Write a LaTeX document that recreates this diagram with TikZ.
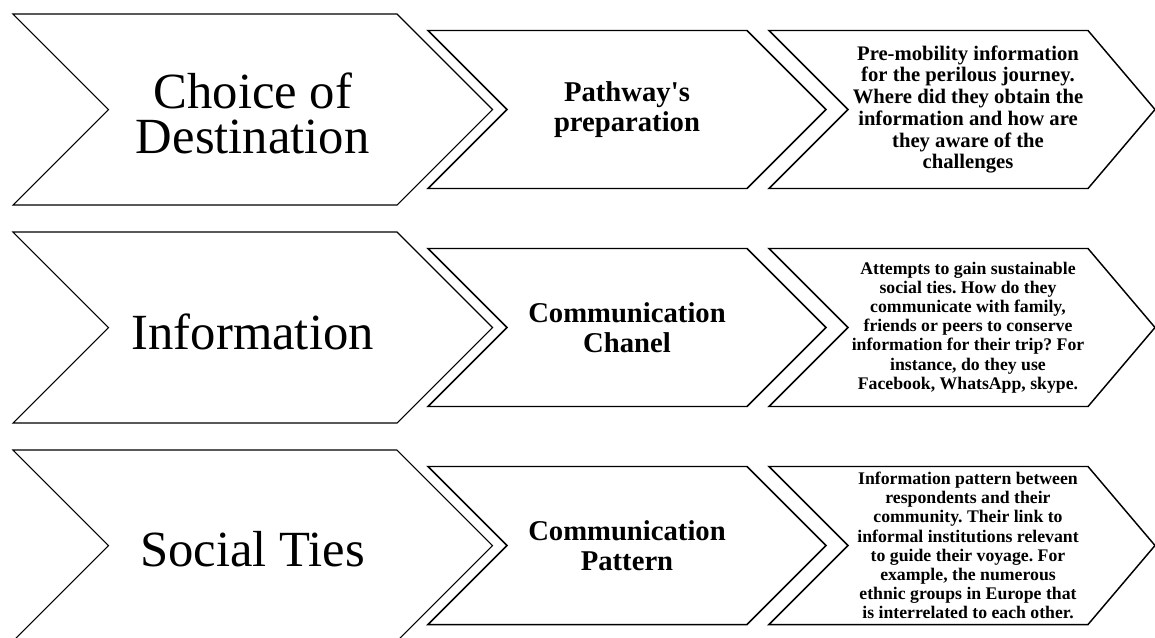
\documentclass[tikz,border=0pt]{standalone}
\usepackage{fontspec}
\setmainfont{Liberation Serif}
\usepackage{tikz}
\usetikzlibrary{positioning}
\frenchspacing
\tikzset{
  chv/.style = {draw=black, line width=0.8pt, line join=miter, fill=white},
  chvs/.style = {chv, line width=1.1pt},
  txt/.style = {align=center, inner sep=0pt, text centered},
  head/.style = {txt, yshift=-3pt, font=\fontsize{38}{34}\selectfont},
  sub/.style = {txt, font=\bfseries\fontsize{21.5}{22.5}\selectfont},
  info/.style = {txt, font=\bfseries\fontsize{15.5}{16.3}\selectfont},
  infos/.style = {txt, font=\bfseries\fontsize{13.3}{14.4}\selectfont}
}
% chevron: name, left x, top y, width, half height, tip depth, line style, text style, text
\newcommand{\chev}[9]{%
  \draw[#7] (#2,#3) -- ({#2+#4},#3) -- ({#2+#4+#6},{#3+#5})
    -- ({#2+#4},{#3+2*#5}) -- (#2,{#3+2*#5}) -- ({#2+#5},{#3+#5}) -- cycle;
  \node[#8] (#1) at ({#2+(#5+#4)/2},{#3+#5}) {#9};
}

\begin{document}
\begin{tikzpicture}[x=0.75pt, y=-0.75pt]
\useasboundingbox (0,0) rectangle (1155,637);
% row 1
\chev{dest}{13}{14}{384}{95.5}{95.5}{chv}{head}{Choice of\\Destination}
\chev{path}{428}{30.5}{319}{79}{79}{chvs}{sub}{Pathway\textquotesingle s\\preparation}
\chev{prem}{769}{30.5}{319}{79}{67}{chvs}{info}{Pre-mobility information\\for the perilous journey.\\Where did they obtain the\\information and how are\\they aware of the\\challenges}
% row 2
\chev{info}{13}{232}{384}{95.5}{95.5}{chv}{head}{Information}
\chev{chan}{428}{248.5}{319}{79}{79}{chvs}{sub}{Communication\\Chanel}
\chev{ties}{769}{248.5}{319}{79}{67}{chvs}{infos}{Attempts to gain sustainable\\social ties. How do they\\communicate with family,\\friends or peers to conserve\\information for their trip? For\\instance, do they use\\Facebook, WhatsApp, skype.}
% row 3
\chev{soc}{13}{450}{384}{95.5}{95.5}{chv}{head}{Social Ties}
\chev{patt}{428}{466.5}{319}{79}{79}{chvs}{sub}{Communication\\Pattern}
\chev{link}{769}{466.5}{319}{79}{67}{chvs}{infos}{Information pattern between\\respondents and their\\community. Their link to\\informal institutions relevant\\to guide their voyage. For\\example, the numerous\\ethnic groups in Europe that\\is interrelated to each other.}
\end{tikzpicture}
\end{document}
